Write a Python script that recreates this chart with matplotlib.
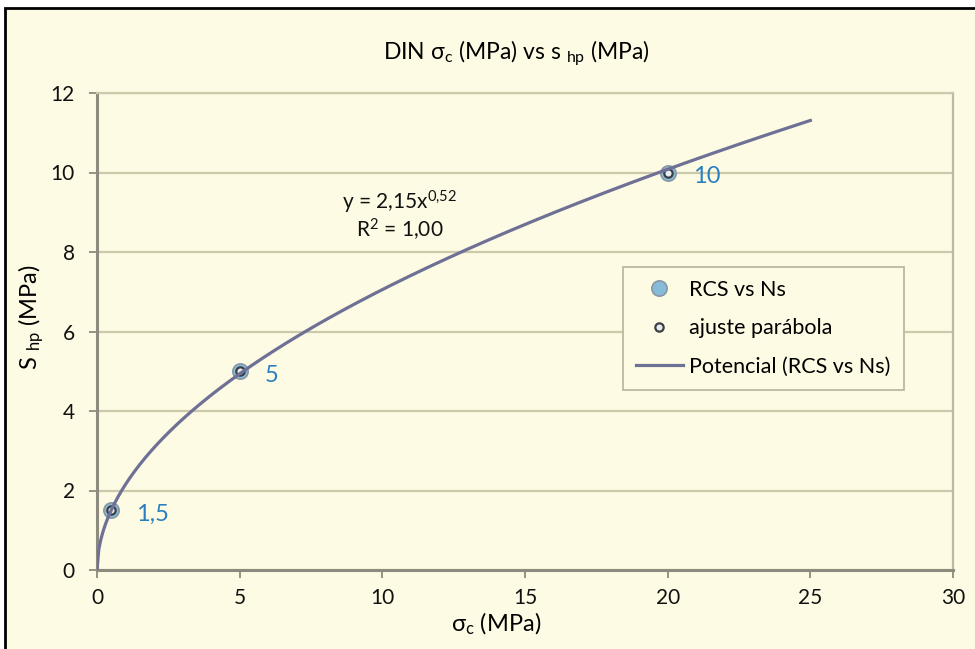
import matplotlib
matplotlib.use("Agg")
import matplotlib.pyplot as plt
import numpy as np
from matplotlib.patches import Rectangle

# Data
sigma_c = [0.5, 5, 20]          # x, MPa
s_hp = [1.5, 5, 10]             # y, MPa
point_labels = ["1,5", "5", "10"]

# Power trendline fitted on the data (as the spreadsheet does)
b_fit, ln_a = np.polyfit(np.log(sigma_c), np.log(s_hp), 1)
a_fit = np.exp(ln_a)
x_fit = np.linspace(0, 25, 400)
y_fit = a_fit * x_fit ** b_fit

cream = "#fdfbe3"
plt.rcParams["font.family"] = ["Lato", "DejaVu Sans"]
plt.rcParams["mathtext.fontset"] = "custom"
plt.rcParams["mathtext.rm"] = "Lato"
plt.rcParams["mathtext.it"] = "Lato"

fig = plt.figure(figsize=(9.75, 6.49), dpi=100, facecolor="white")
# cream panel with black border on top / left
fig.patches.append(Rectangle((5 / 975, -0.05), 1.1, (641 / 649) + 0.05,
                             transform=fig.transFigure, facecolor=cream,
                             edgecolor="black", linewidth=2, zorder=-10))

ax = fig.add_axes([97 / 975, 79 / 649, 856 / 975, 477 / 649])
ax.set_facecolor(cream)

# Layer 1: data points
ax.plot(sigma_c, s_hp, linestyle="none", marker="o", markersize=11,
        markerfacecolor="#86bcd9", markeredgecolor="#8a97a3",
        markeredgewidth=1.2, label="RCS vs Ns", zorder=3)
ax.plot(sigma_c, s_hp, linestyle="none", marker="o", markersize=6,
        markerfacecolor="#e8ecee", markeredgecolor="#3a3f45",
        markeredgewidth=1.6, label="ajuste parábola", zorder=4)
# Layer 2: trendline
ax.plot(x_fit, y_fit, color="#6e7096", linewidth=2.3,
        label="Potencial (RCS vs Ns)", zorder=5)

# Data labels
for x, y, t in zip(sigma_c, s_hp, point_labels):
    ax.annotate(t, (x, y), xytext=(18, -3), textcoords="offset points",
                va="center", ha="left", color="#2a7fc2", fontsize=17)

# Equation
ax.text(10.6, 9.25, "y = 2,15x$^{0{,}52}$", ha="center", va="center",
        fontsize=15, color="#111111")
ax.text(10.6, 8.55, "R$^{2}$ = 1,00", ha="center", va="center",
        fontsize=15, color="#111111")

ax.set_xlim(0, 30)
ax.set_ylim(0, 12)
ax.set_xticks(np.arange(0, 31, 5))
ax.set_yticks(np.arange(0, 13, 2))
ax.yaxis.grid(True, color="#cdc9ab", linewidth=1.6)
ax.set_axisbelow(True)
ax.tick_params(axis="both", colors="#8c8b7d", labelcolor="#111111",
               labelsize=15, length=6, width=1.3)
ax.tick_params(axis="x", pad=7)
ax.tick_params(axis="y", pad=10)
for side in ["left", "bottom"]:
    ax.spines[side].set_color("#8c8b7d")
    ax.spines[side].set_linewidth(2.2)
ax.spines["right"].set_color("#bdb9a0")
ax.spines["right"].set_linewidth(1.6)
ax.spines["top"].set_color("#cdc9ab")
ax.spines["top"].set_linewidth(1.6)

ax.set_xlabel("σ$_\\mathrm{c}$ (MPa)", fontsize=17, labelpad=3)
ax.xaxis.set_label_coords(0.466, -0.085)
ax.set_ylabel("S $_\\mathrm{hp}$ (MPa)", fontsize=17)
ax.yaxis.set_label_coords(-0.06, 0.53)
ax.set_title("DIN σ$_\\mathrm{c}$ (MPa) vs s $_\\mathrm{hp}$ (MPa)",
             fontsize=16.5, pad=24, x=0.49)

leg = ax.legend(loc="upper left", bbox_to_anchor=(0.614, 0.635),
                fontsize=15.5, frameon=True, fancybox=False,
                facecolor=cream, edgecolor="#bdb9a0", framealpha=1,
                handlelength=2.2, handletextpad=0.3, labelspacing=0.85,
                borderpad=0.6, borderaxespad=0)
leg.get_frame().set_linewidth(1.3)

fig.savefig("out.png", dpi=100, facecolor=fig.get_facecolor())
